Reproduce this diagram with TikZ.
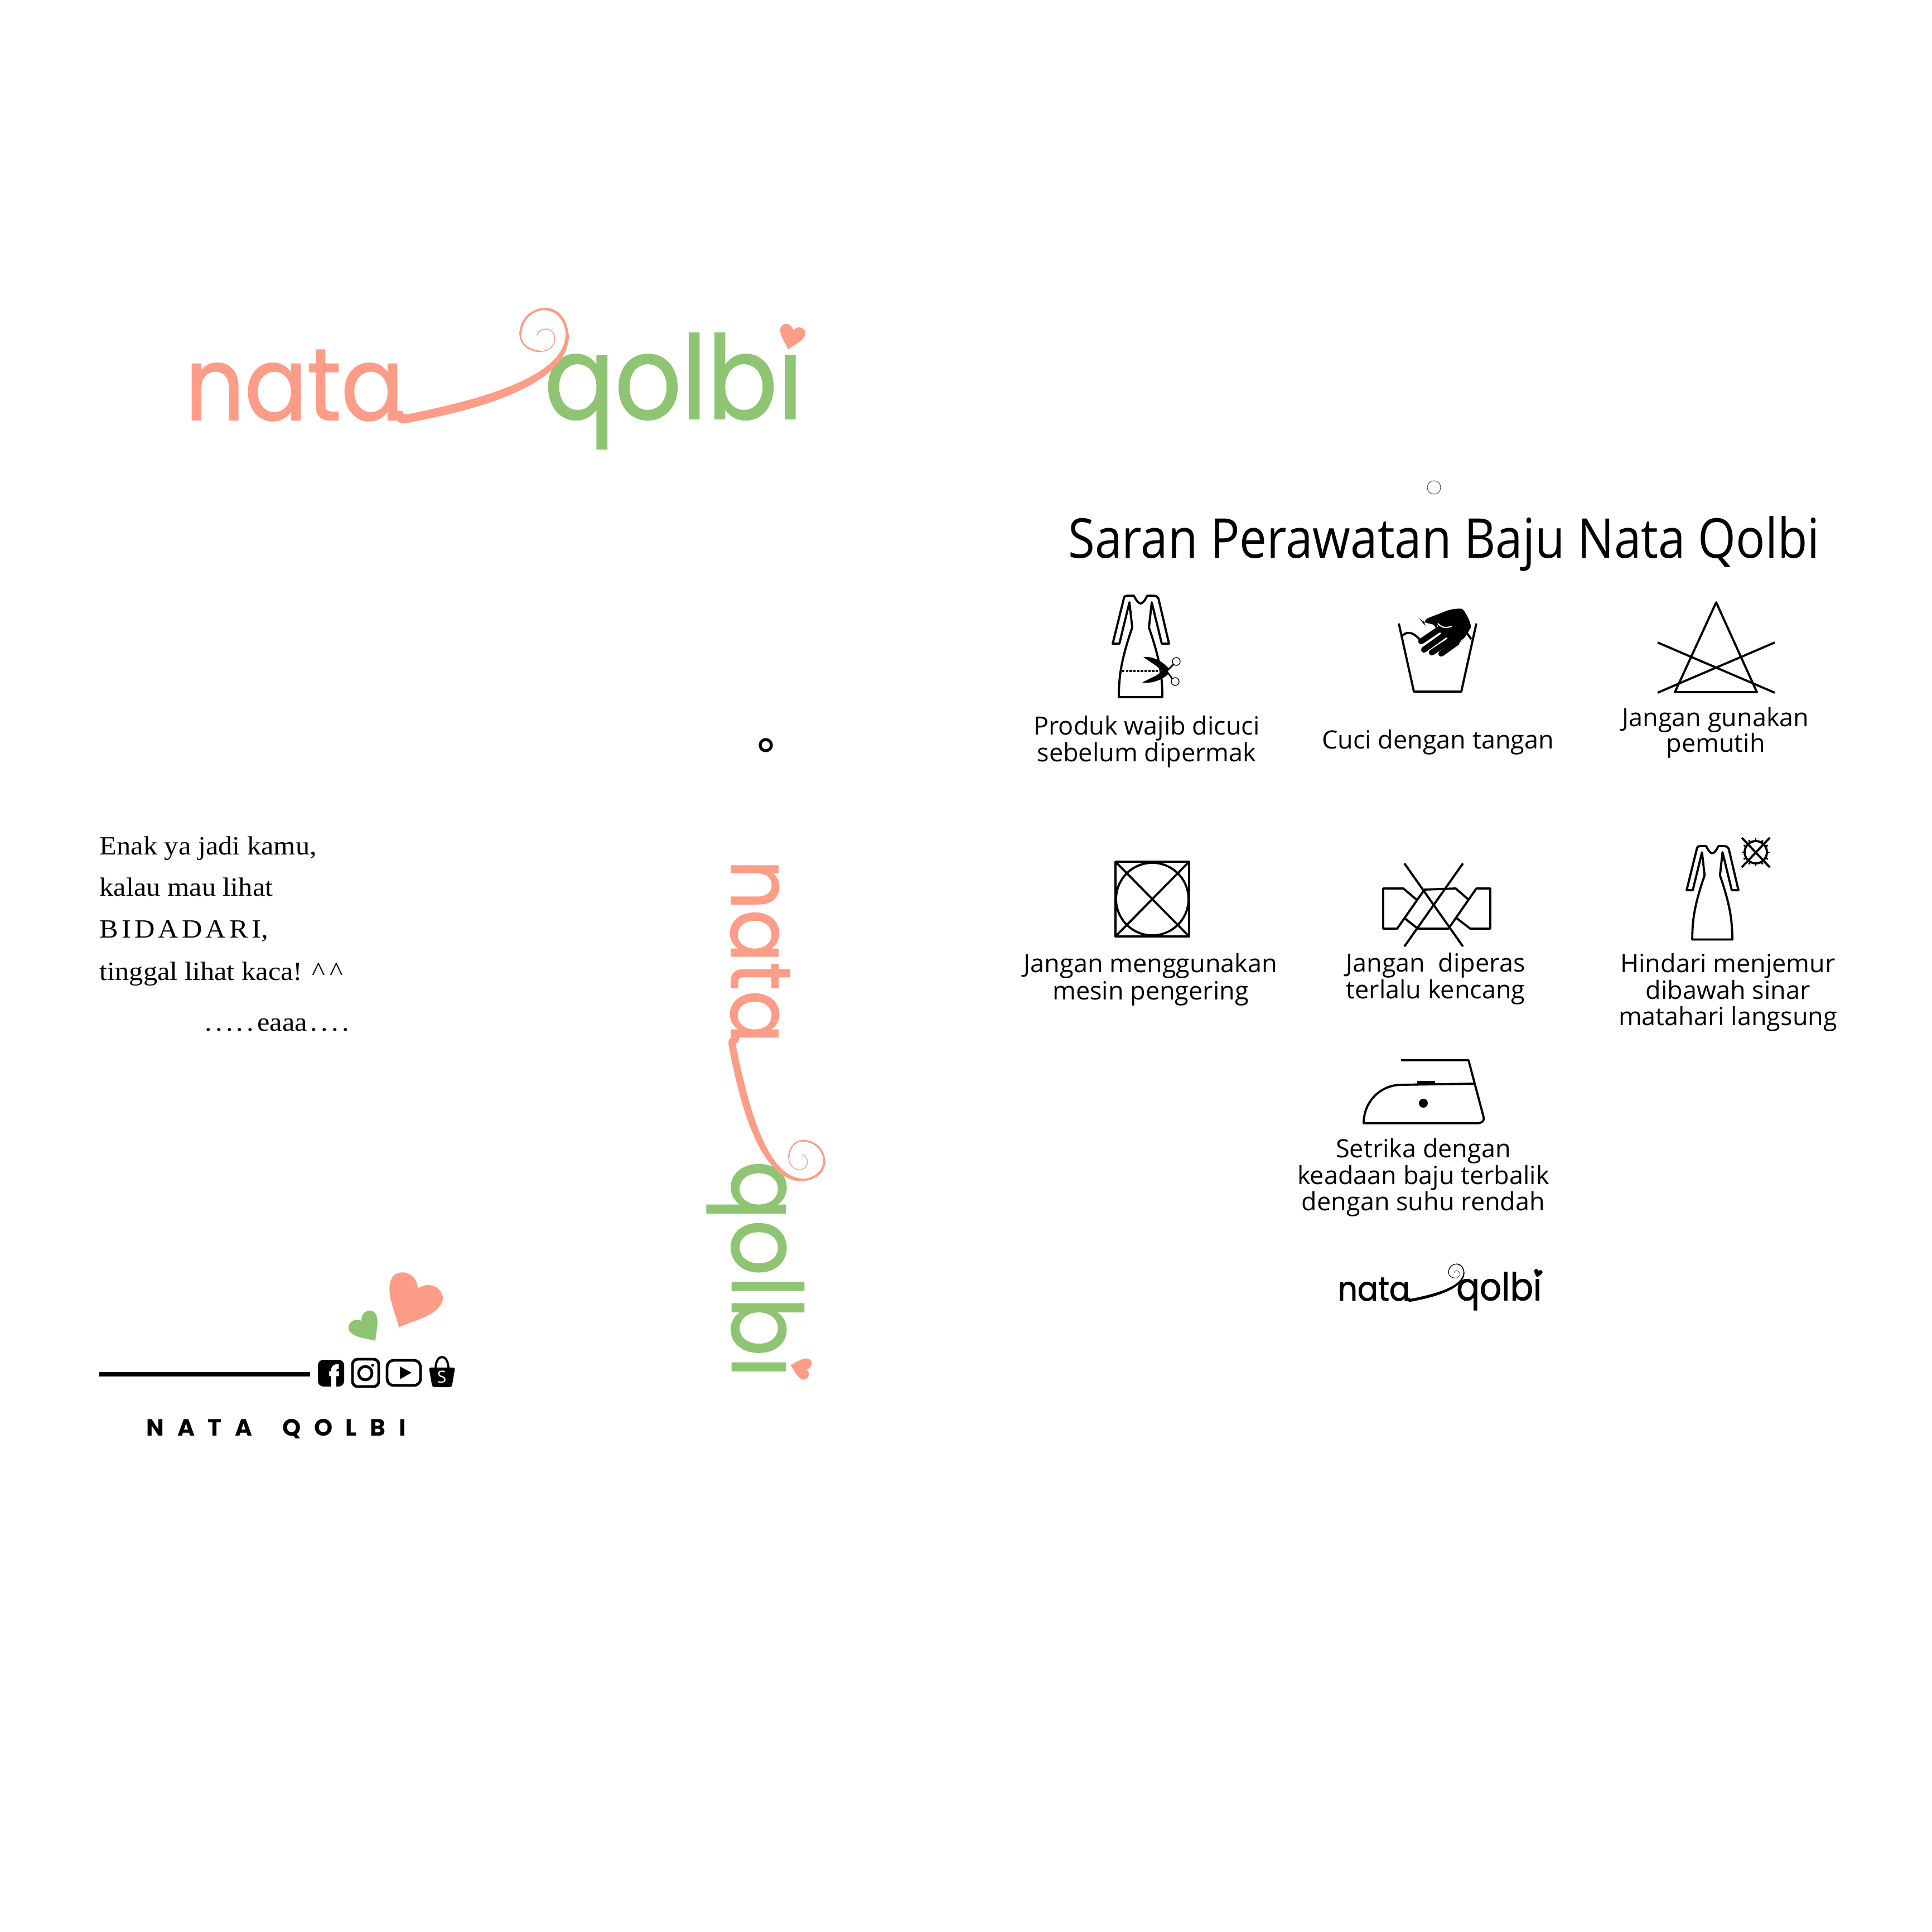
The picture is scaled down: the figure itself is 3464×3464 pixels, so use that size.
\documentclass[tikz,border=0pt]{standalone}
\usepackage{fontspec}
\usetikzlibrary{positioning}
\usepackage{xcolor}
\newfontfamily\logofont[FakeStretch=0.91,FakeBold=1.2]{Poppins}
\newfontfamily\logofontb[FakeStretch=0.90,FakeBold=1.2]{Poppins}
\newfontfamily\carefont{Open Sans}
\newfontfamily\titlefont[FakeStretch=0.885]{Open Sans}
\newfontfamily\noteFont[FakeStretch=1.07]{Liberation Serif}
\newfontfamily\brandfont[LetterSpace=56]{Poppins}
\definecolor{salmon}{HTML}{FD9C87}
\definecolor{leaf}{HTML}{8FC572}
% unit heart, tip down
\newcommand{\heartpath}{(0,-1) .. controls (-.3,-.6) and (-1,-.1) .. (-1,.45) .. controls (-1,.9) and (-.3,1.1) .. (0,.55) .. controls (.3,1.1) and (1,.9) .. (1,.45) .. controls (1,-.1) and (.3,-.6) .. (0,-1) -- cycle}
% #1 name prefix, #2 placing, #3 and #4 colours, #5 size
\newcommand{\natalogo}[5]{
    \begin{scope}[#2,scale=#5,transform shape]
        \node[logotext,text=#3] (#1nata) at (-10,0) {\fontsize{52}{52}\selectfont nata};
        \node[logotext,text=#4] (#1qolbi) at (634,2) {\logofontb\fontsize{59}{59}\selectfont qolbi};
        \fill[#3] (366,17) .. controls (366,3) and (370,-6) .. (382,-6) -- (390,-5) .. controls (510,18) and (678,60) .. (678,153) -- (672,153) .. controls (670,75) and (510,35) .. (392,11) .. controls (384,9) and (380,10) .. (380,16) -- cycle;
        \draw[#3,line cap=round,line width=#5*1.4pt] (675,150) to[out=90,in=0] (635,199);
        \draw[#3,line cap=round,line width=#5*1.1pt] (635,199) to[out=180,in=90] (591,153);
        \draw[#3,line cap=round,line width=#5*.8pt] (591,153) to[out=-90,in=180] (628,123);
        \draw[#3,line cap=round,line width=#5*.45pt] (628,123) to[out=0,in=-90] (653,146) to[out=90,in=0] (637,163) to[out=180,in=80] (621,152);
        \fill[#3,shift={(1077,149)},rotate=-15,scale=23] \heartpath;
    \end{scope}
}
% drawn from the neck down, y reversed
\newcommand{\gownpath}{(-39,182) -- (39,182) .. controls (39,140) and (33,110) .. (15,57) -- (20,12) -- (38,86) -- (51,86) -- (32,5) .. controls (29,1) and (27,0) .. (24,0) -- (12,0) .. controls (8,8) and (4,14) .. (0,14) .. controls (-4,14) and (-8,8) .. (-12,0) -- (-24,0) .. controls (-27,0) and (-29,1) .. (-30,5) -- (-50,86) -- (-38,86) -- (-20,12) -- (-15,57) .. controls (-33,110) and (-39,140) .. (-39,182) -- cycle}
\begin{document}
\begin{tikzpicture}[x=.01cm,y=.01cm,
    logotext/.style = {anchor=base west, inner sep=0pt, outer sep=0pt, font=\logofont},
    care/.style = {anchor=base, inner sep=0pt, font=\carefont\fontsize{12.8}{14}\selectfont},
    note/.style = {anchor=base west, inner sep=0pt, font=\noteFont\fontsize{13.4}{15}\selectfont},
    icon/.style = {line width=1.1pt, line join=round},
    social/.style = {line width=1.4pt, rounded corners=2.6pt}
                    ]
    \useasboundingbox (0,0) rectangle (3464,-3464);

    % logos
    \natalogo{big}{shift={(342,-753)}}{salmon}{leaf}{1}
    \natalogo{side}{shift={(1311,-1550)},rotate=-90}{salmon}{leaf}{.838}
    \natalogo{small}{shift={(2402,-2332)}}{black}{black}{.33}

    % the two punched holes
    \draw[black!70,line width=.3pt] (2571,-874) circle (12);
    \draw[line width=1.5pt] (1373,-1336) circle (10);

    % left side
    \foreach \y/\n/\t in {1532/a/{Enak ya jadi kamu,}, 1606/b/kalau mau lihat, 1681/c/{\spaceskip=.13em B I D A D A R I,}, 1757/d/tinggal lihat kaca! \^{}\,\^{}}
        \node[note] (note\n) at (178,-\y) {\t};
    \node[note] (notee) at (367,-1848) {.\kern.13em.\kern.13em.\kern.13em.\kern.13em.\kern.13em eaaa\kern.13em.\kern.13em.\kern.13em.\kern.13em.};

    \fill[salmon,shift={(737,-2335)},rotate=-26,scale=50] \heartpath;
    \fill[leaf,shift={(657,-2381)},rotate=35,scale=28] \heartpath;

    \coordinate (ruleA) at (178,-2464);
    \coordinate (ruleB) at (556,-2464);
    \draw[line width=2.2pt] (ruleA) -- (ruleB);

    \fill[rounded corners=2.8pt] (570,-2438) rectangle (617,-2486);
    \node[anchor=south,inner sep=0pt,text=white,font=\logofont\bfseries\fontsize{16}{16}\selectfont] (fbF) at (599,-2491) {f};
    \draw[social] (632,-2437) rectangle (679,-2486);
    \draw[line width=1.4pt] (655,-2462) circle (12);
    \fill (668,-2448) circle (2.5);
    \draw[social,rounded corners=3.4pt] (694,-2439) rectangle (754,-2484);
    \fill (717,-2450) -- (738,-2461) -- (717,-2473) -- cycle;
    \draw[line width=1.1pt] (781,-2454) .. controls (781,-2426) and (804,-2426) .. (804,-2454);
    \fill[rounded corners=1pt] (769,-2452) -- (816,-2452) -- (810,-2487) -- (775,-2487) -- cycle;
    \node[inner sep=0pt,text=white,font=\carefont\fontsize{8.5}{9}\selectfont] (bagS) at (792,-2469) {S};

    \node[anchor=base west,inner sep=0pt,font=\brandfont\bfseries\fontsize{12}{14}\selectfont] (brand) at (262,-2574) {NATA\hspace{.5em} QOLBI};

    % care sheet
    \node[anchor=base,inner sep=0pt,font=\titlefont\fontsize{28}{30}\selectfont] (title) at (2589,-1000) {Saran Perawatan Baju Nata Qolbi};

    \foreach \x/\y/\n/\t in {2056/1317/a/Produk wajib dicuci, 2056/1365/b/sebelum dipermak, 2578/1342/c/Cuci dengan tangan, 3076/1302/d/Jangan gunakan, 3076/1348/e/pemutih, 2063/1743/f/Jangan menggunakan, 2063/1792/g/mesin pengering, 2574/1742/h/Jangan\ \ diperas, 2574/1790/i/terlalu kencang, 3098/1743/j/Hindari menjemur, 3098/1791/k/dibawah sinar, 3098/1838/l/matahari langsung, 2552/2075/m/Setrika dengan, 2552/2123/n/keadaan baju terbalik, 2552/2170/o/dengan suhu rendah}
        \node[care] (care\n) at (\x,-\y) {\t};

    % gown and scissors
    \draw[icon,shift={(2045,-1068)},yscale=-1] \gownpath;
    \draw[line width=1.1pt,dash pattern=on 1.2pt off .7pt] (2012,-1203) -- (2082,-1203);
    \fill (2050,-1178) .. controls (2072,-1176) and (2088,-1190) .. (2096,-1199) -- (2088,-1208) .. controls (2078,-1195) and (2060,-1186) .. (2050,-1178) -- cycle;
    \fill (2048,-1224) .. controls (2070,-1226) and (2088,-1216) .. (2096,-1207) -- (2088,-1198) .. controls (2078,-1212) and (2060,-1216) .. (2048,-1224) -- cycle;
    \draw[line width=.8pt] (2090,-1205) -- (2104,-1191);
    \draw[line width=.8pt] (2090,-1201) -- (2102,-1217);
    \draw[line width=.4pt] (2109,-1186) circle (7);
    \draw[line width=.4pt] (2107,-1222) circle (7);

    % basin and hand
    \draw[icon] (2508,-1118) -- (2535,-1240) -- (2620,-1240) -- (2647,-1118);
    \draw[icon] (2514,-1140) .. controls (2522,-1132) and (2532,-1132) .. (2545,-1146);
    \draw[icon] (2630,-1135) -- (2638,-1146);
    \fill[rounded corners=4pt] (2548,-1113) -- (2607,-1090) .. controls (2625,-1092) and (2640,-1120) .. (2630,-1138) -- (2620,-1150) -- (2610,-1155) -- (2575,-1130) -- (2578,-1119) -- (2552,-1118) -- cycle;
    \foreach \xa/\ya/\xb/\yb in {2585/1125/2548/1150, 2595/1135/2553/1165, 2605/1145/2567/1170, 2612/1152/2584/1172}
        \draw[line width=3pt,line cap=round] (\xa,-\ya) -- (\xb,-\yb);
    \draw[white,line width=.6pt] (2578,-1118) .. controls (2588,-1128) and (2595,-1125) .. (2603,-1123);

    % bleach triangle
    \draw[icon] (3077,-1080) -- (3150,-1241) -- (3003,-1241) -- cycle;
    \draw[icon] (2972,-1152) -- (3182,-1242);
    \draw[icon] (3182,-1152) -- (2972,-1242);

    % dryer
    \draw[icon] (2000,-1545) rectangle (2132,-1679);
    \draw[icon] (2066,-1612) circle (65);
    \draw[icon] (2000,-1545) -- (2132,-1679);
    \draw[icon] (2132,-1545) -- (2000,-1679);

    % wring
    \draw[icon] (2541,-1614) -- (2516,-1593) -- (2480,-1593) -- (2480,-1665) -- (2505,-1665) -- (2554,-1595) -- (2610,-1593) -- (2633,-1613);
    \draw[icon] (2610,-1645) -- (2636,-1665) -- (2672,-1665) -- (2672,-1593) -- (2647,-1593) -- (2597,-1665) -- (2542,-1665) -- (2518,-1646);
    \draw[icon] (2518,-1548) -- (2623,-1697);
    \draw[icon] (2623,-1548) -- (2518,-1697);

    % gown and sun
    \draw[icon,shift={(3070,-1517)},yscale=-.92,xscale=.92] \gownpath;
    \draw[icon] (3148,-1528) circle (20);
    \foreach \a in {0,30,...,330}
        \draw[line width=.8pt] ([shift=(\a:20)]3148,-1528) -- ([shift=(\a:25)]3148,-1528);
    \draw[icon] (3123,-1502) -- (3173,-1555);
    \draw[icon] (3173,-1502) -- (3123,-1555);

    % iron
    \draw[icon] (2512,-1901) -- (2633,-1901) -- (2660,-2003) .. controls (2662,-2010) and (2656,-2014) .. (2648,-2014) -- (2445,-2014) .. controls (2445,-1975) and (2475,-1945) .. (2513,-1945) -- (2642,-1943);
    \draw[line width=1.5pt] (2541,-1941) -- (2573,-1941);
    \fill (2552,-1978) circle (8);
\end{tikzpicture}
\end{document}
